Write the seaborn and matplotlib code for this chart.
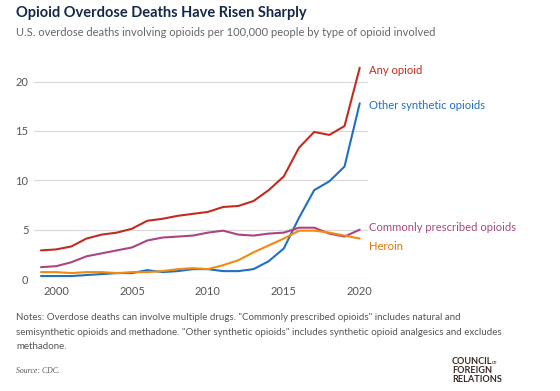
import pandas as pd
import numpy as np
import matplotlib.pyplot as plt
import seaborn as sns

# data (rates per 100,000)
years = list(range(1999, 2021))
any_opioid = [2.9, 3.0, 3.3, 4.1, 4.5, 4.7, 5.1, 5.9, 6.1, 6.4, 6.6, 6.8, 7.3, 7.4, 7.9, 9.0, 10.4, 13.3, 14.9, 14.6, 15.5, 21.4]
other_synthetic = [0.3, 0.3, 0.3, 0.4, 0.5, 0.6, 0.6, 0.9, 0.7, 0.8, 1.0, 1.0, 0.8, 0.8, 1.0, 1.8, 3.1, 6.2, 9.0, 9.9, 11.4, 17.8]
commonly_prescribed = [1.2, 1.3, 1.7, 2.3, 2.6, 2.9, 3.2, 3.9, 4.2, 4.3, 4.4, 4.7, 4.9, 4.5, 4.4, 4.6, 4.7, 5.2, 5.2, 4.6, 4.3, 5.0]
heroin = [0.7, 0.7, 0.6, 0.7, 0.7, 0.6, 0.7, 0.7, 0.8, 1.0, 1.1, 1.0, 1.4, 1.9, 2.7, 3.4, 4.1, 4.9, 4.9, 4.7, 4.4, 4.1]

series_names = ["Any opioid", "Other synthetic opioids", "Commonly prescribed opioids", "Heroin"]
series_values = [any_opioid, other_synthetic, commonly_prescribed, heroin]
line_colors = {"Any opioid": "#c42b1f", "Other synthetic opioids": "#2170bd",
               "Commonly prescribed opioids": "#a9467f", "Heroin": "#f28a12"}
label_colors = {"Any opioid": "#c42b1f", "Other synthetic opioids": "#2170bd",
                "Commonly prescribed opioids": "#a9467f", "Heroin": "#d8760f"}
label_shift = {"Any opioid": -0.3, "Other synthetic opioids": -0.2,
               "Commonly prescribed opioids": 0.2, "Heroin": -0.8}

df = pd.DataFrame({
    "year": years * len(series_names),
    "rate": sum(series_values, []),
    "type": sum([[n] * len(years) for n in series_names], []),
})

sns.set_style("white")
plt.rcParams["font.family"] = ["Lato", "DejaVu Sans"]

fig = plt.figure(figsize=(5.6, 3.91), dpi=100)
ax = fig.add_axes([0.0607, 0.2864, 0.596, 0.5553])

sns.lineplot(data=df, x="year", y="rate", hue="type", palette=line_colors,
             linewidth=1.5, legend=False, ax=ax, zorder=3)

ax.set_xlim(1998.54, 2020.53)
ax.set_ylim(0, 22)
ax.set_yticks([0, 5, 10, 15, 20])
ax.set_xticks([2000, 2005, 2010, 2015, 2020])
ax.grid(axis="y", color="#d9d9d9", linewidth=0.9)
ax.set_axisbelow(True)
sns.despine(ax=ax, left=True, bottom=True, top=True, right=True)
ax.tick_params(axis="both", length=0, labelsize=8, labelcolor="#555555")
ax.tick_params(axis="y", pad=4)
ax.tick_params(axis="x", pad=5)
ax.set_xlabel("")
ax.set_ylabel("")

# end labels
for name, vals in zip(series_names, series_values):
    ax.annotate(name, xy=(years[-1], vals[-1] + label_shift[name]),
                xytext=(7, 0), textcoords="offset points",
                color=label_colors[name], fontsize=8.1, va="center", ha="left",
                annotation_clip=False)

# titles
fig.text(0.029, 0.967, "Opioid Overdose Deaths Have Risen Sharply", fontsize=10.5,
         fontweight="bold", color="#13294b", va="center")
fig.text(0.029, 0.916, "U.S. overdose deaths involving opioids per 100,000 people by type of opioid involved",
         fontsize=8.0, color="#666666", va="center")

# notes
note_lines = ['Notes: Overdose deaths can involve multiple drugs. "Commonly prescribed opioids" includes natural and',
              'semisynthetic opioids and methadone. "Other synthetic opioids" includes synthetic opioid analgesics and excludes',
              'methadone.']
for i, line in enumerate(note_lines):
    fig.text(0.029, 1 - (318 + 14.3 * i) / 391, line, fontsize=7.0, color="#555555", va="center")
fig.text(0.029, 1 - 371 / 391, "Source: CDC.", fontsize=5.6, color="#555555", va="center",
         family="Liberation Serif", style="italic")

# logo
for i, word in enumerate(["COUNCIL", "FOREIGN", "RELATIONS"]):
    fig.text(0.807, 1 - (361 + 9.5 * i) / 391, word, fontsize=6.6, fontweight="bold",
             color="#3d2b24", va="center", ha="left")
fig.text(0.878, 1 - 362 / 391, "on", fontsize=4.0, style="italic", color="#3d2b24", va="center",
         family="Liberation Serif")

fig.savefig("out.png", dpi=100)
